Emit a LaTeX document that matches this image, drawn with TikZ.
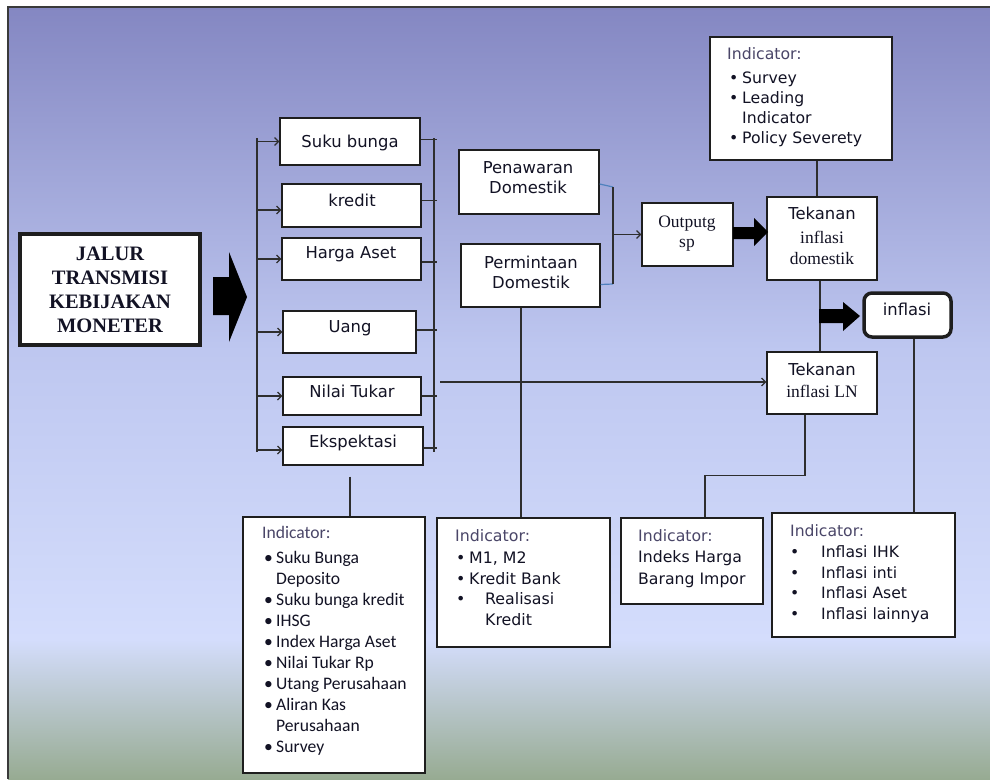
\documentclass[tikz,border=0pt]{standalone}
\usepackage{fontspec}
\setmainfont{DejaVu Sans}
\newfontfamily\serifF{Liberation Serif}
\newfontfamily\calF{Carlito}
\usetikzlibrary{arrows.meta,calc}
\definecolor{bgA}{HTML}{8487C2}
\definecolor{bgM}{HTML}{BEC7F0}
\definecolor{bgB}{HTML}{D4DDFC}
\definecolor{bgC}{HTML}{97AB92}
\definecolor{framec}{HTML}{3A3A3A}
\definecolor{boxc}{HTML}{1E1E1E}
\definecolor{linec}{HTML}{2E2E2E}
\definecolor{txt}{HTML}{121224}
\definecolor{hdr}{HTML}{4A4668}
\definecolor{tickc}{HTML}{4F81BD}
\newcommand\mybul[3]{\hspace*{#1}\makebox[#2][l]{\textbullet}#3}
\begin{document}
\begin{tikzpicture}[x=1pt,y=-1pt,
  box/.style={draw=boxc, line width=1.3pt, fill=white, inner sep=0pt},
  conn/.style={draw=linec, line width=1.2pt},
  tip/.style={-{Straight Barb[length=4pt,width=8pt]}},
  lab/.style={font=\fontsize{16.4}{20}\selectfont, text=txt, anchor=base, inner sep=0pt},
  ser/.style={font=\serifF\fontsize{17.5}{21}\selectfont, text=txt, anchor=base, inner sep=0pt},
  ind/.style={anchor=base west, inner sep=0pt, text=txt},
  blockarrow/.style={fill=black}
]
\useasboundingbox (0,0) rectangle (990,779);
% background
\fill[white] (0,0) rectangle (990,779);
\shade[top color=bgA, bottom color=bgM] (8,7) rectangle (990,350);
\shade[top color=bgM, bottom color=bgB] (8,349.5) rectangle (990,640);
\shade[top color=bgB, bottom color=bgC] (8,639.5) rectangle (990,779);
\draw[framec, line width=1.5pt] (8,779) -- (8,7) -- (990,7);

% main box
\node[box, line width=4pt, minimum width=180, minimum height=111] (jalur) at (110,289.5) {};
\node[anchor=base, inner sep=0pt, text=txt, font=\serifF\bfseries\fontsize{20.5}{24}\selectfont] (tJalur) at (110,260)
  {\begin{tabular}[t]{@{}c@{}}JALUR\\TRANSMISI\\KEBIJAKAN\\MONETER\end{tabular}};
\fill[blockarrow] (213,277) -- (229,277) -- (229,252) -- (247,297) -- (229,342) -- (229,315) -- (213,315) -- cycle;

% channel boxes
\node[box, minimum width=140, minimum height=47] (suku) at (350,141.5) {};
\node[box, minimum width=139, minimum height=43] (kredit) at (351.5,205.5) {};
\node[box, minimum width=139, minimum height=42] (harga) at (351.5,259) {};
\node[box, minimum width=133, minimum height=42] (uang) at (349.5,332) {};
\node[box, minimum width=138, minimum height=38] (nilai) at (352,396) {};
\node[box, minimum width=140, minimum height=38] (eksp) at (353,446) {};
\node[lab] (tSuku) at (350,147) {Suku bunga};
\node[lab] (tKredit) at (352,206) {kredit};
\node[lab] (tHarga) at (351,258) {Harga Aset};
\node[lab] (tUang) at (350,332) {Uang};
\node[lab] (tNilai) at (352,397) {Nilai Tukar};
\node[lab] (tEksp) at (353,447) {Ekspektasi};

% left bus
\coordinate (lbT) at (257,138);
\coordinate (lbB) at (257,452);
\draw[conn] (lbT) -- (lbB);
\draw[conn,tip] (lbT |- suku.west) -- (suku.west);
\draw[conn,tip] (lbT |- {$(kredit.west)+(0,4.5)$}) -- ($(kredit.west)+(0,4.5)$);
\draw[conn,tip] (lbT |- harga.west) -- (harga.west);
\draw[conn,tip] (lbT |- uang.west) -- (uang.west);
\draw[conn,tip] (lbT |- nilai.west) -- (nilai.west);
\draw[conn,tip] (lbT |- {$(eksp.west)+(0,4)$}) -- ($(eksp.west)+(0,4)$);

% right bus
\coordinate (rbT) at (434,138);
\coordinate (rbB) at (434,452);
\coordinate (rbX) at (437,0);
\draw[conn] (rbT) -- (rbB);
\draw[conn] ($(suku.east)+(0,-2)$) -- ($(suku.east -| rbX)+(0,-2)$);
\draw[conn] ($(kredit.east)+(0,-5)$) -- ($(kredit.east -| rbX)+(0,-5)$);
\draw[conn] ($(harga.east)+(0,3)$) -- ($(harga.east -| rbX)+(0,3)$);
\draw[conn] ($(uang.east)+(0,-2)$) -- ($(uang.east -| rbX)+(0,-2)$);
\draw[conn] (nilai.east) -- (nilai.east -| rbX);
\draw[conn] ($(eksp.east)+(0,2)$) -- ($(eksp.east -| rbX)+(0,2)$);

% domestic boxes
\node[box, minimum width=140, minimum height=64] (penaw) at (529,182) {};
\node[box, minimum width=139, minimum height=63] (permin) at (530.5,275.5) {};
\node[lab] (tPen) at (528,173) {\begin{tabular}[t]{@{}c@{}}Penawaran\\Domestik\end{tabular}};
\node[lab] (tPer) at (531,268) {\begin{tabular}[t]{@{}c@{}}Permintaan\\Domestik\end{tabular}};
\coordinate (brT) at (613,187);
\coordinate (brB) at (613,284);
\draw[tickc, line width=1.2pt] ($(penaw.east)+(0,2)$) -- (brT);
\draw[tickc, line width=1.2pt] ($(permin.east)+(0,9)$) -- (brB);
\draw[conn] (brT) -- (brB);

\node[box, minimum width=91, minimum height=63] (output) at (687.5,234.5) {};
\node[ser] (tOut) at (687,227) {\begin{tabular}[t]{@{}c@{}}Outputg\\[-1pt]sp\end{tabular}};
\draw[conn,tip] (brT |- output.west) -- (output.west);

\node[box, minimum width=110, minimum height=83] (tekdom) at (822,238.5) {};
\node[lab] (tTek1) at (822,219) {Tekanan};
\node[ser] (tTek2) at (822,243) {\begin{tabular}[t]{@{}c@{}}inflasi\\domestik\end{tabular}};
\fill[blockarrow] (733,227) -- (754,227) -- (754,218) -- (768,232) -- (754,246) -- (754,239) -- (733,239) -- cycle;

\node[box, minimum width=110, minimum height=62] (teklin) at (822,383) {};
\node[lab] (tTek3) at (822,375) {Tekanan};
\node[ser] (tTek4) at (822,397) {inflasi LN};
\coordinate (lnS) at (440,0);
\draw[conn,tip] ($(teklin.west -| lnS)+(0,-1)$) -- ($(teklin.west)+(0,-1)$);

\draw[conn] ($(tekdom.south)+(-2,0)$) -- ($(teklin.north)+(-2,0)$);

\node[box, line width=3.5pt, rounded corners=8pt, minimum width=87, minimum height=44] (infl) at (907.5,315) {};
\node[lab] (tInfl) at (907,315) {inflasi};
\fill[blockarrow] (819,309) -- (843,309) -- (843,302) -- (860,316) -- (843,331) -- (843,323) -- (819,323) -- cycle;

% indicator boxes
\node[box, minimum width=182, minimum height=123] (indtop) at (801,98.5) {};
\node[ind] (tTop) at (727,59) {\fontsize{15.7}{20}\selectfont
  \begin{tabular}[t]{@{}l@{}}
  \textcolor{hdr}{Indicator:}\\[4pt]
  \mybul{2pt}{13pt}{Survey}\\
  \mybul{2pt}{13pt}{Leading}\\
  \hspace*{15pt}Indicator\\
  \mybul{2pt}{13pt}{Policy Severety}
  \end{tabular}};
\coordinate (lx) at (817,0);
\draw[conn] (indtop.south -| lx) -- (tekdom.north -| lx);

\node[box, minimum width=182, minimum height=256] (indleft) at (334,645) {};
\node[ind] (tLeft) at (262,538) {\calF\fontsize{17.6}{21}\selectfont
  \begin{tabular}[t]{@{}l@{}}
  \textcolor{hdr}{Indicator:}\\[4pt]
  \mybul{2pt}{12pt}{Suku Bunga}\\
  \hspace*{14pt}Deposito\\
  \mybul{2pt}{12pt}{Suku bunga kredit}\\
  \mybul{2pt}{12pt}{IHSG}\\
  \mybul{2pt}{12pt}{Index Harga Aset}\\
  \mybul{2pt}{12pt}{Nilai Tukar Rp}\\
  \mybul{2pt}{12pt}{Utang Perusahaan}\\
  \mybul{2pt}{12pt}{Aliran Kas}\\
  \hspace*{14pt}Perusahaan\\
  \mybul{2pt}{12pt}{Survey}
  \end{tabular}};
\draw[conn] ($(eksp.south)+(-3,11)$) coordinate (ek1) -- (indleft.north -| ek1);

\node[box, minimum width=173, minimum height=129] (indmid) at (523.5,582.5) {};
\node[ind] (tMid) at (455,541) {\fontsize{15.8}{20.5}\selectfont
  \begin{tabular}[t]{@{}l@{}}
  \textcolor{hdr}{Indicator:}\\[2pt]
  \mybul{1pt}{13pt}{M1, M2}\\
  \mybul{1pt}{13pt}{Kredit Bank}\\
  \mybul{1pt}{29pt}{Realisasi}\\
  \hspace*{30pt}Kredit
  \end{tabular}};
\draw[conn] ($(permin.south)+(-9.5,0)$) coordinate (pm1) -- (indmid.north -| pm1);

\node[box, minimum width=142, minimum height=86] (indimp) at (692,561) {};
\node[ind] (tImp) at (638,541) {\fontsize{15.7}{21.5}\selectfont
  \begin{tabular}[t]{@{}l@{}}
  \textcolor{hdr}{Indicator:}\\
  Indeks Harga\\
  Barang Impor
  \end{tabular}};
\draw[conn] ($(teklin.south)+(-17,0)$) -- ++(0,61) -| ($(indimp.north)+(13,0)$);

\node[box, minimum width=183, minimum height=124] (indright) at (863.5,575) {};
\node[ind] (tRight) at (790,536) {\fontsize{15.6}{20.5}\selectfont
  \begin{tabular}[t]{@{}l@{}}
  \textcolor{hdr}{Indicator:}\\[1pt]
  \mybul{0pt}{31pt}{Inflasi IHK}\\
  \mybul{0pt}{31pt}{Inflasi inti}\\
  \mybul{0pt}{31pt}{Inflasi Aset}\\
  \mybul{0pt}{31pt}{Inflasi lainnya}
  \end{tabular}};
\draw[conn] ($(infl.south)+(6.5,0)$) coordinate (if1) -- (indright.north -| if1);
\end{tikzpicture}
\end{document}
